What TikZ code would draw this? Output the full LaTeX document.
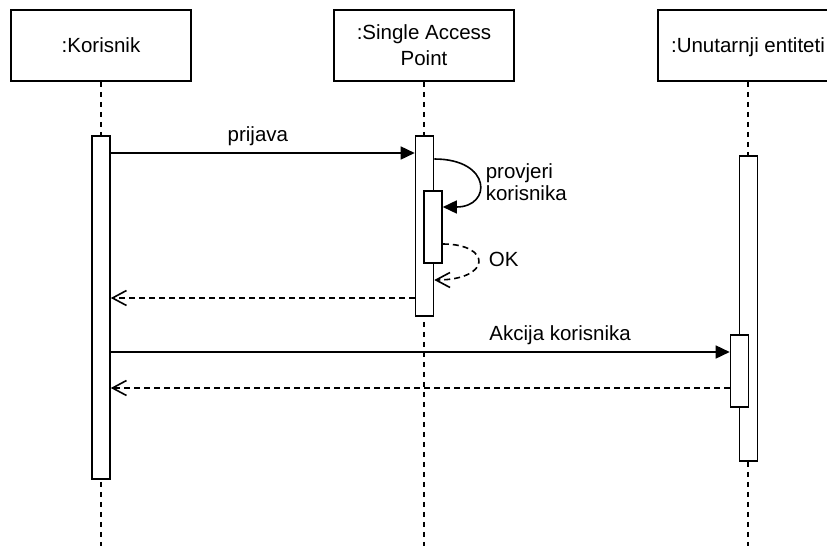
\documentclass[tikz,border=0pt]{standalone}
\usepackage{fontspec}
\setmainfont{Liberation Sans}
\usetikzlibrary{arrows.meta}
\begin{document}
\begin{tikzpicture}[x=1pt,y=-1pt,line width=1.6pt,
  txt/.style={font=\fontsize{20.5}{26}\selectfont},
  head/.style={txt,draw,fill=white,minimum width=180pt,minimum height=71pt,
    inner sep=0pt,align=center,text depth=0pt},
  bar/.style={draw,fill=white,minimum width=18pt,inner sep=0pt,anchor=north},
  life/.style={dash pattern=on 5pt off 5pt},
  call/.style={-{Triangle[length=14pt,width=13pt]}},
  reply/.style={dash pattern=on 6pt off 4pt,-{Straight Barb[length=14pt,width=15pt]}},
  lbl/.style={txt,inner sep=0pt}]
\useasboundingbox (0,0) rectangle (827,546);
\clip (0,0) rectangle (827,546);

% participant headers
\node[head] (h1) at (101,45.5) {:Korisnik};
\node[head] (h2) at (424,45.5) {:Single Access\\Point};
\node[head] (h3) at (748,45.5) {:Unutarnji entiteti};

% lifeline ends
\coordinate (e1) at (101,546);
\coordinate (e2) at (424,546);
\coordinate (e3) at (748,546);
\draw[life] (h1.south) -- (e1);
\draw[life] (h2.south) -- (e2);
\draw[life] (h3.south) -- (e3);

% activation bars
\node[bar,minimum height=343pt] (a1) at (101,135) {};
\node[bar,minimum height=180pt] (a2) at (424.5,135) {};
\node[bar,minimum height=72pt] (a2b) at (433,190) {};
\node[bar,minimum height=305pt] (a3) at (748.5,155) {};
\node[bar,minimum height=72pt] (a3b) at (739.5,334) {};

% messages
\draw[call] (a1.east |- 0,153) -- (a2.west |- 0,153)
  node[lbl,pos=0.484,above=6pt] {prijava};
\draw[call] (a2.east |- 0,159) .. controls (492,159) and (492,207) .. (a2b.east |- 0,207);
\node[lbl,anchor=west,align=left,font=\fontsize{20.5}{22}\selectfont] (t1) at (485,182)
  {provjeri\\korisnika};
\draw[reply] (a2b.east |- 0,244) .. controls (492,244) and (492,280) .. (a2.east |- 0,280);
\node[lbl,anchor=base west] (t2) at (488,266.5) {OK};
\draw[reply] (a2.west |- 0,298) -- (a1.east |- 0,298);
\draw[call] (a1.east |- 0,352) -- (a3b.west |- 0,352)
  node[lbl,pos=0.726,above=6pt] {Akcija korisnika};
\draw[reply] (a3b.west |- 0,388) -- (a1.east |- 0,388);
\end{tikzpicture}
\end{document}
